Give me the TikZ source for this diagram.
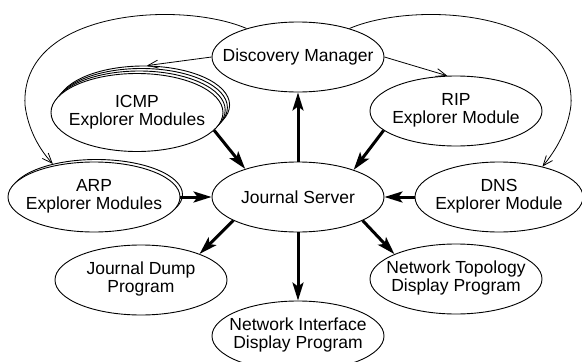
\documentclass[tikz,border=0pt]{standalone}
\usepackage{fontspec}
\setmainfont{Liberation Sans}
\usetikzlibrary{shapes.geometric,arrows.meta}
\newcommand{\twol}[2]{\makebox[0pt]{\begin{tabular}{@{}c@{}}#1\\#2\end{tabular}}}
\newcommand{\onel}[1]{\makebox[0pt]{#1}}
\begin{document}
\begin{tikzpicture}[x=1pt,y=-1pt,
  oval/.style={ellipse,draw,line width=0.9pt,fill=white,minimum width=172pt,minimum height=70pt,inner sep=0pt,font=\fontsize{17.5}{18}\selectfont},
  thinarrow/.style={line width=0.8pt,-{Straight Barb[length=10pt,width=8pt]}},
  thickarrow/.style={line width=3pt,-{Stealth[length=18pt,width=11pt,inset=4pt]}}]
\useasboundingbox (0,0) rectangle (582,362);
% nodes
\node[oval] (dm) at (298,57) {\onel{Discovery Manager}};
\node[oval] (rip) at (456,111) {\twol{RIP}{Explorer Module}};
\node[oval,minimum height=78pt] (icmp3) at (143.6,105) {};
\node[oval,minimum height=78pt] (icmp2) at (141.4,107.5) {};
\node[oval,minimum height=78pt] (icmp1) at (139.2,110) {};
\node[oval,minimum height=78pt] (icmp) at (137,112.5) {\twol{ICMP}{Explorer Modules}};
\node[oval] (arp1) at (96.5,194.5) {};
\node[oval] (arp) at (94,197) {\twol{ARP}{Explorer Modules}};
\node[oval] (js) at (298,197) {\onel{Journal Server}};
\node[oval,minimum width=168pt] (dns) at (499,197) {\twol{DNS}{Explorer Module}};
\node[oval] (dump) at (141,280) {\twol{Journal Dump}{Program}};
\node[oval] (topo) at (456,279) {\twol{Network Topology}{Display Program}};
\node[oval] (nif) at (298,336) {\twol{Network Interface}{Display Program}};
\coordinate (lc) at (25,105);
\coordinate (rc) at (571,105);
% thin connectors
\draw[thinarrow] (dm.180) -- (icmp3.85);
\draw[thinarrow] (dm.east) -- (rip.104);
\draw[thinarrow] (dm.151) .. controls (180,0) and (20,10) .. (lc) .. controls (28,130) and (40,150) .. (arp1.145);
\draw[thinarrow] (dm.29) .. controls (416,0) and (576,10) .. (rc) .. controls (568,130) and (556,150) .. (dns.35);
% thick connectors
\draw[thickarrow] (icmp.-13) -- (js.152);
\draw[thickarrow] (js.north) -- (dm.south);
\draw[thickarrow] (rip.195) -- (js.26);
\draw[thickarrow] (arp.east) -- (js.west);
\draw[thickarrow] (dns.west) -- (js.east);
\draw[thickarrow] (js.200) -- (dump.24);
\draw[thickarrow] (js.south) -- (nif.north);
\draw[thickarrow] (js.-20) -- (topo.158);
\end{tikzpicture}
\end{document}
